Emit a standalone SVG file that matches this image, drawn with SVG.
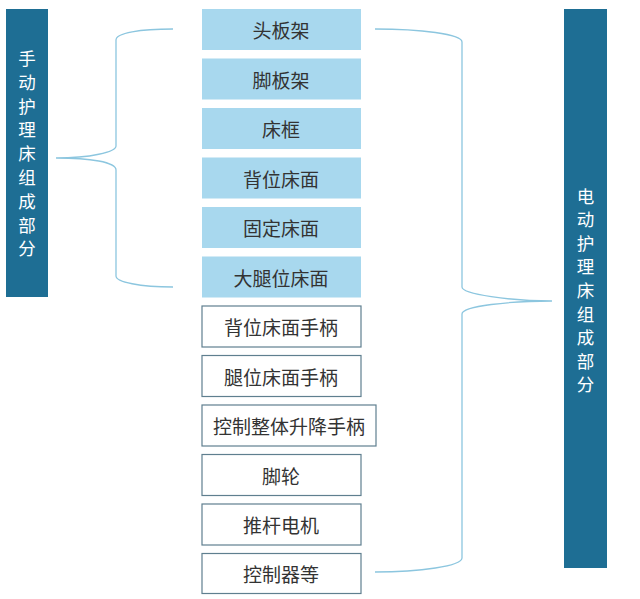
<svg xmlns="http://www.w3.org/2000/svg" width="640" height="599" viewBox="0 0 640 599">
<style>
.bg{fill:#ffffff}
.bar{fill:#1e6e94}
.bt{font-family:"Noto Sans CJK SC","Noto Sans CJK TC",sans-serif;font-size:17.5px;fill:#ffffff;text-anchor:middle}
.fb{fill:#a8d8ee}
.ob{fill:#ffffff;stroke:#5f7f8f;stroke-width:1.2}
.t{font-family:"Noto Sans CJK SC","Noto Sans CJK TC",sans-serif;font-size:19px;fill:#333333;text-anchor:middle;dominant-baseline:central}
.br{fill:none;stroke:#8cc6df;stroke-width:1.3}
</style>
<rect class="bg" x="0" y="0" width="640" height="599"/>
<g id="left-bar">
<rect class="bar" x="6" y="9" width="42" height="288"/>
<text class="bt" x="27" y="65"><tspan x="27">手</tspan><tspan x="27" dy="23.8">动</tspan><tspan x="27" dy="23.8">护</tspan><tspan x="27" dy="23.8">理</tspan><tspan x="27" dy="23.8">床</tspan><tspan x="27" dy="23.8">组</tspan><tspan x="27" dy="23.8">成</tspan><tspan x="27" dy="23.8">部</tspan><tspan x="27" dy="23.8">分</tspan></text>
</g>
<g id="right-bar">
<rect class="bar" x="564" y="9" width="43" height="559"/>
<text class="bt" x="585.5" y="202.5"><tspan x="585.5">电</tspan><tspan x="585.5" dy="23.6">动</tspan><tspan x="585.5" dy="23.6">护</tspan><tspan x="585.5" dy="23.6">理</tspan><tspan x="585.5" dy="23.6">床</tspan><tspan x="585.5" dy="23.6">组</tspan><tspan x="585.5" dy="23.6">成</tspan><tspan x="585.5" dy="23.6">部</tspan><tspan x="585.5" dy="23.6">分</tspan></text>
</g>
<g id="connectors">
<path class="br" d="M173,29 C140,29 116,33 116,40 L116,146 C116,152 90,158 56,158 C90,158 116,162 116,170 L116,276 C116,282 140,287 173,287"/>
<path class="br" d="M375,29 C420,29 462,34 462,42 L462,287 C462,294 510,301 552,301 C510,301 462,306 462,314 L462,558 C462,566 420,572 375,572"/>
</g>
<g id="n1"><rect class="fb" x="202" y="9" width="159" height="41"/><text class="t" x="281" y="29.5">头板架</text></g>
<g id="n2"><rect class="fb" x="202" y="58.5" width="159" height="41"/><text class="t" x="281" y="79">脚板架</text></g>
<g id="n3"><rect class="fb" x="202" y="108" width="159" height="41"/><text class="t" x="281" y="128.5">床框</text></g>
<g id="n4"><rect class="fb" x="202" y="157.5" width="159" height="41"/><text class="t" x="281" y="178">背位床面</text></g>
<g id="n5"><rect class="fb" x="202" y="207" width="159" height="41"/><text class="t" x="281" y="227.5">固定床面</text></g>
<g id="n6"><rect class="fb" x="202" y="256.5" width="159" height="41"/><text class="t" x="281" y="277">大腿位床面</text></g>
<g id="n7"><rect class="ob" x="202" y="306" width="159" height="41"/><text class="t" x="281" y="326.5">背位床面手柄</text></g>
<g id="n8"><rect class="ob" x="202" y="355.5" width="159" height="41"/><text class="t" x="281" y="376">腿位床面手柄</text></g>
<g id="n9"><rect class="ob" x="202" y="405" width="174" height="41"/><text class="t" x="289" y="425.5">控制整体升降手柄</text></g>
<g id="n10"><rect class="ob" x="202" y="454.5" width="159" height="41"/><text class="t" x="281" y="475">脚轮</text></g>
<g id="n11"><rect class="ob" x="202" y="504" width="159" height="41"/><text class="t" x="281" y="524.5">推杆电机</text></g>
<g id="n12"><rect class="ob" x="202" y="553.5" width="159" height="40"/><text class="t" x="281" y="573.5">控制器等</text></g>
</svg>
